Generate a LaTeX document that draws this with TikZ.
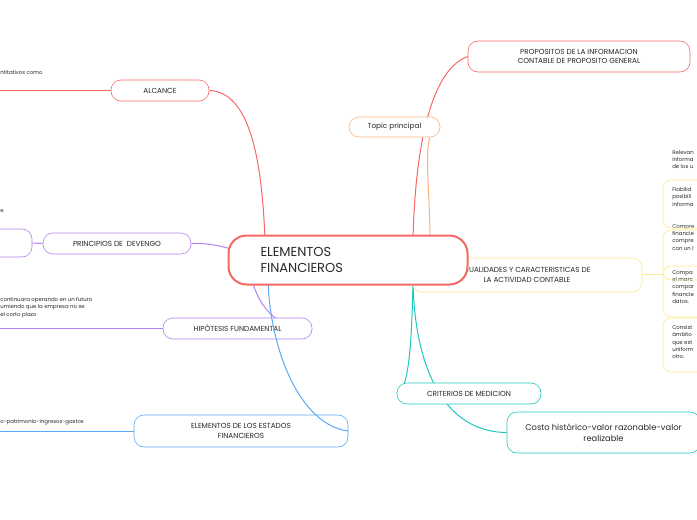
\documentclass[tikz,border=0pt]{standalone}
\usepackage{fontspec}
\setmainfont{Poppins}
\usetikzlibrary{backgrounds}
\definecolor{c_red}{RGB}{245,105,100}
\definecolor{c_orange}{RGB}{250,180,130}
\definecolor{c_yellow}{RGB}{250,235,140}
\definecolor{c_teal}{RGB}{30,200,190}
\definecolor{c_purple}{RGB}{180,130,240}
\definecolor{c_blue}{RGB}{90,170,245}
\definecolor{c_text}{RGB}{40,40,40}
\begin{document}
\begin{tikzpicture}[x=1pt,y=-1pt,semithick,text=c_text]
    \tikzstyle{topic}=[draw, rounded corners=10pt, fill=white, inner sep=0pt, font=\fontsize{7.3}{9.5}\selectfont, align=center]
    \tikzstyle{leaf}=[font=\fontsize{5.4}{7.3}\selectfont, align=left, anchor=north west, inner sep=0pt]
    \tikzstyle{branch}=[line width=1pt]
    \useasboundingbox (0,0) rectangle (697,520);
    \clip (0,0) rectangle (697,520);
    % leaves on the left
    \node[leaf] (tcomo) at (0,70) {ntitativos como};
    \node[leaf] (tdev) at (0,209) {e};
    \node[leaf] (thip) at (0,297) {continuara operando en un futuro\\umiendo que la empresa no se\\el corto plazo};
    \node[leaf] (telem) at (0,419) {o-patrimonio-ingresos-gastos};
    % leaves on the right
    \node[leaf] (trel) at (672,150) {Relevan\\informa\\de los u};
    \node[leaf] (tfia) at (672,187) {Fiabilid\\posibili\\informa};
    \node[leaf] (tcom) at (672,224) {Compre\\financie\\compre\\con un l};
    \node[leaf] (tcmp) at (672,270) {Compa\\el marc\\compar\\financie\\datos.};
    \node[leaf] (tcon) at (672,325) {Consist\\ámbito\\que est\\uniform\\otro.};
    % yellow brackets
    \coordinate (yb) at (642,274);
    \foreach \ya/\yb in {180/228,230/280,266/317,318/372}{
      \draw[c_yellow, rounded corners=8pt] (698,\ya) -- (663,\ya) -- (663,\yb) -- (698,\yb);
    }
    \draw[c_yellow,branch] (yb) -- (663,274);
    % topics
    \node[topic, draw=c_red, minimum width=98, minimum height=21] (alc) at (160,90.5) {ALCANCE};
    \node[topic, draw=c_red, minimum width=222, minimum height=31] (prop) at (579,56.5) {PROPOSITOS DE LA INFORMACION\\CONTABLE DE PROPOSITO GENERAL};
    \node[topic, draw=c_orange, minimum width=91, minimum height=20] (tp) at (394.5,127) {Topic principal};
    \node[topic, draw=c_yellow, minimum width=230, minimum height=34] (cual) at (527,275) {CUALIDADES Y CARACTERISTICAS DE\\LA ACTIVIDAD CONTABLE};
    \node[topic, draw=c_teal, minimum width=144, minimum height=21] (crit) at (469,393.5) {CRITERIOS DE MEDICION};
    \node[topic, draw=c_teal, minimum width=193, minimum height=41, font=\fontsize{8.3}{11}\selectfont] (costo) at (603.5,432.5) {Costo histórico-valor razonable-valor\\realizable};
    \node[topic, draw=c_purple, minimum width=148, minimum height=21] (dev) at (117,243.5) {PRINCIPIOS DE\ \ DEVENGO};
    \node[topic, draw=c_purple, minimum width=60, minimum height=28] (devl) at (2,243) {};
    \node[topic, draw=c_purple, minimum width=149, minimum height=21] (hip) at (237.5,328.5) {HIPÓTESIS FUNDAMENTAL};
    \node[topic, draw=c_blue, minimum width=214, minimum height=32] (elem) at (241,431) {ELEMENTOS DE LOS ESTADOS\\FINANCIEROS};
    % blue branch over the purple box
    \draw[c_blue,branch] (elem.east) .. controls (300,425) and (270,350) .. (268,280);
    % centre
    \node[draw=c_red, line width=2pt, rounded corners=18pt, fill=white, minimum width=239, minimum height=49, inner xsep=32pt, text width=175, align=left, font=\fontsize{13}{16}\selectfont] (fin) at (348,260) {ELEMENTOS\\FINANCIEROS};
    \begin{scope}[on background layer]
    % left lines
    \draw[c_red,branch] (0,90.5) -- (alc.west);
    \draw[c_purple,branch] (devl.east) -- (dev.west);
    \draw[c_purple,branch] (0,328.5) -- (hip.west);
    \draw[c_blue,branch] (0,431) -- (elem.west);
    % branches from the centre
    \draw[c_red,branch] (alc.east) .. controls (250,92) and (262,160) .. (265,240);
    \draw[c_red,branch] (prop.west) .. controls (430,70) and (415,150) .. (413,240);
    \draw[c_orange,branch] (tp.east) .. controls (420,127) and (430,180) .. (430,240);
    \draw[c_purple,branch] (dev.east) .. controls (210,243) and (220,246) .. (235,250);
    \draw[c_purple,branch] (hip.east) .. controls (280,330) and (260,310) .. (252,280);
    \draw[c_teal,branch] (crit.west) .. controls (410,392) and (412,330) .. (413,280);
    \draw[c_teal,branch] (costo.west) .. controls (440,432) and (414,360) .. (413,280);
    \end{scope}
\end{tikzpicture}
\end{document}
